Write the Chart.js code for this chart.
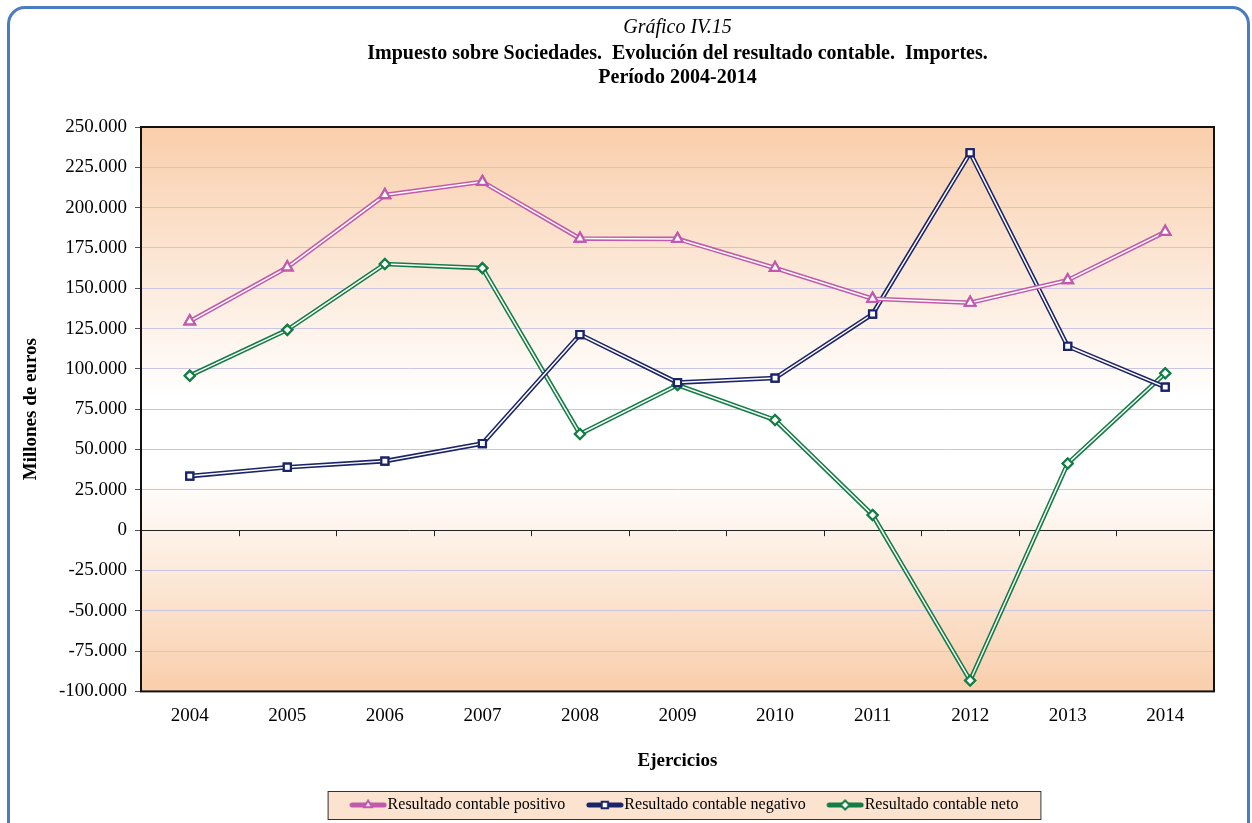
<!DOCTYPE html>
<html lang="es">
<head>
<meta charset="utf-8">
<title>Gráfico IV.15</title>
<script src="https://cdn.jsdelivr.net/npm/chart.js@4.4.1/dist/chart.umd.min.js"></script>
<style>
  body { margin: 0; background: #fff; }
  #pagina { position: relative; width: 1252px; height: 823px; overflow: hidden; }
  #marco {
    position: absolute; left: 7px; top: 6px; width: 1237px; height: 900px;
    border: 3px solid #4A7DC0; border-radius: 18px;
  }
  #contenedor { position: absolute; left: 0; top: 0; width: 1252px; height: 823px; }
</style>
</head>
<body>
<div id="pagina">
  <div id="marco"></div>
  <div id="contenedor"><canvas id="grafico"></canvas></div>
</div>
<script>
// Años (ejercicios)
const ejercicios = ['2004', '2005', '2006', '2007', '2008', '2009', '2010', '2011', '2012', '2013', '2014'];

// Millones de euros
const positivo = [129500, 163000, 207800, 216000, 180800, 180600, 162600, 143500, 141000, 155000, 185000];
const negativo = [33500, 39000, 42800, 53700, 121300, 91500, 94300, 134000, 234000, 114000, 88700];
const neto = [95800, 124200, 165000, 162500, 59600, 90000, 68300, 9400, -93200, 41300, 97300];

const nombres = ['Resultado contable positivo', 'Resultado contable negativo', 'Resultado contable neto'];
const colores = ['#C05AAE', '#1B2469', '#137D45'];
const marcadores = ['triangle', 'rect', 'rectRot'];

const fuente = '"Liberation Serif", "Times New Roman", serif';

// puntos con separador de miles
function formato(v) {
    const s = String(Math.abs(v)).replace(/\B(?=(\d{3})+(?!\d))/g, '.');
    return v < 0 ? '-' + s : s;
}

// muestra de la leyenda: trazo grueso con el marcador en medio
function muestra(color, estilo) {
    const c = document.createElement('canvas');
    c.width = 58;
    c.height = 16;
    const ctx = c.getContext('2d');
    ctx.strokeStyle = color;
    ctx.lineWidth = 5;
    ctx.lineCap = 'round';
    ctx.beginPath();
    ctx.moveTo(23, 8);
    ctx.lineTo(55, 8);
    ctx.stroke();
    ctx.fillStyle = '#fff';
    ctx.lineWidth = 2;
    Chart.helpers.drawPoint(ctx, { pointStyle: estilo, radius: 4.5, borderWidth: 2, rotation: 0 }, 39, 8);
    return c;
}

// fondo degradado del área de trazado y recuadro de la leyenda
const fondo = {
    id: 'fondo',
    beforeDraw(chart) {
        const { ctx, chartArea: a } = chart;
        const g = ctx.createLinearGradient(0, a.top, 0, a.bottom);
        g.addColorStop(0, '#F9CEAB');
        g.addColorStop(0.48, '#FFFFFF');
        g.addColorStop(0.62, '#FFFFFF');
        g.addColorStop(1, '#F9CEAB');
        ctx.save();
        ctx.fillStyle = g;
        ctx.fillRect(a.left, a.top, a.right - a.left, a.bottom - a.top);

        const cajas = chart.legend.legendHitBoxes;
        if (cajas && cajas.length) {
            const ult = cajas[cajas.length - 1];
            const x0 = cajas[0].left + 13 - 22;
            const x1 = ult.left + ult.width + 22;
            const yc = cajas[0].top + cajas[0].height / 2;
            ctx.fillStyle = '#FCE3CF';
            ctx.fillRect(x0, yc - 14, x1 - x0, 28);
            ctx.strokeStyle = '#333';
            ctx.lineWidth = 1;
            ctx.strokeRect(x0 + 0.5, yc - 13.5, x1 - x0, 28);
        }
        ctx.restore();
    },
    beforeDatasetsDraw(chart) {
        const { ctx, chartArea: a, scales } = chart;
        ctx.save();
        // marcas del eje de categorías sobre la línea del cero
        const y0 = scales.y.getPixelForValue(0);
        const paso = scales.x.getPixelForValue(1) - scales.x.getPixelForValue(0);
        ctx.strokeStyle = '#222';
        ctx.lineWidth = 1;
        ctx.beginPath();
        for (let i = 1; i < ejercicios.length; i++) {
            const x = Math.round(scales.x.getPixelForValue(i) - paso / 2) + 0.5;
            ctx.moveTo(x, y0);
            ctx.lineTo(x, y0 + 6);
        }
        ctx.stroke();
        // marco del área de trazado
        ctx.strokeStyle = '#111';
        ctx.lineWidth = 2;
        ctx.strokeRect(a.left, a.top, a.right - a.left, a.bottom - a.top);
        ctx.restore();
    }
};

// línea doble: hilo blanco dentro del trazo de color, y los marcadores encima
const lineaDoble = {
    id: 'lineaDoble',
    afterDatasetDraw(chart, args) {
        const pts = args.meta.data;
        const ctx = chart.ctx;
        ctx.save();
        ctx.strokeStyle = '#fff';
        ctx.lineWidth = 1.5;
        ctx.beginPath();
        pts.forEach((p, i) => i ? ctx.lineTo(p.x, p.y) : ctx.moveTo(p.x, p.y));
        ctx.stroke();
        pts.forEach(p => p.draw(ctx, chart.chartArea));
        ctx.restore();
    }
};

const series = [positivo, negativo, neto];

const data = {
    labels: ejercicios,
    datasets: series.map((valores, i) => ({
        label: nombres[i],
        data: valores,
        borderColor: colores[i],
        borderWidth: 4.6,
        tension: 0,
        pointStyle: marcadores[i],
        pointRadius: i === 0 ? 6 : 5,
        pointBorderWidth: 2.2,
        pointBorderColor: colores[i],
        pointBackgroundColor: '#fff'
    }))
};

const options = {
    responsive: true,
    maintainAspectRatio: false,
    animation: false,
    layout: { padding: { top: 16, left: 20, right: 38, bottom: 0 } },
    plugins: {
        title: {
            display: true,
            fullSize: false,
            text: 'Gráfico IV.15',
            color: '#000',
            font: { family: fuente, size: 20, style: 'italic', weight: 'normal', lineHeight: 1.2 },
            padding: { top: 0, bottom: 0 }
        },
        subtitle: {
            display: true,
            fullSize: false,
            text: ['Impuesto sobre Sociedades.  Evolución del resultado contable.  Importes.', 'Período 2004-2014'],
            color: '#000',
            font: { family: fuente, size: 20, weight: 'bold', lineHeight: 1.2 },
            padding: { top: 2, bottom: 37 }
        },
        legend: {
            display: true,
            position: 'bottom',
            fullSize: false,
            labels: {
                color: '#000',
                font: { family: fuente, size: 16 },
                padding: 8,
                usePointStyle: true,
                pointStyleWidth: 43,
                generateLabels: (chart) => nombres.map((n, i) => ({
                    text: n,
                    datasetIndex: i,
                    pointStyle: muestra(colores[i], marcadores[i]),
                    fillStyle: 'transparent',
                    strokeStyle: 'transparent',
                    lineWidth: 0,
                    hidden: false
                }))
            }
        },
        tooltip: { enabled: false }
    },
    scales: {
        x: {
            offset: true,
            grid: { display: false, drawTicks: false },
            border: { display: false },
            ticks: { color: '#000', font: { family: fuente, size: 19 }, padding: 13 },
            title: {
                display: true,
                text: 'Ejercicios',
                color: '#000',
                font: { family: fuente, size: 19, weight: 'bold', lineHeight: 1.2 },
                padding: { top: 9, bottom: 17 }
            }
        },
        y: {
            min: -100000,
            max: 250000,
            afterFit: (scale) => { scale.width = 121; },
            grid: {
                color: (ctx) => ctx.tick && ctx.tick.value === 0 ? '#222' : '#CBC5E5',
                lineWidth: 1,
                tickLength: 6,
                tickColor: '#555'
            },
            border: { display: false },
            ticks: {
                stepSize: 25000,
                color: '#000',
                font: { family: fuente, size: 19 },
                padding: 8,
                callback: (v) => formato(v)
            },
            title: {
                display: true,
                text: 'Millones de euros',
                color: '#000',
                font: { family: fuente, size: 19, weight: 'bold', lineHeight: 1.2 },
                padding: { top: 0, bottom: 0 }
            }
        }
    }
};

const config = {
    type: 'line',
    data: data,
    options: options,
    plugins: [fondo, lineaDoble]
};

const miGrafico = new Chart(document.getElementById('grafico'), config);
</script>
</body>
</html>
